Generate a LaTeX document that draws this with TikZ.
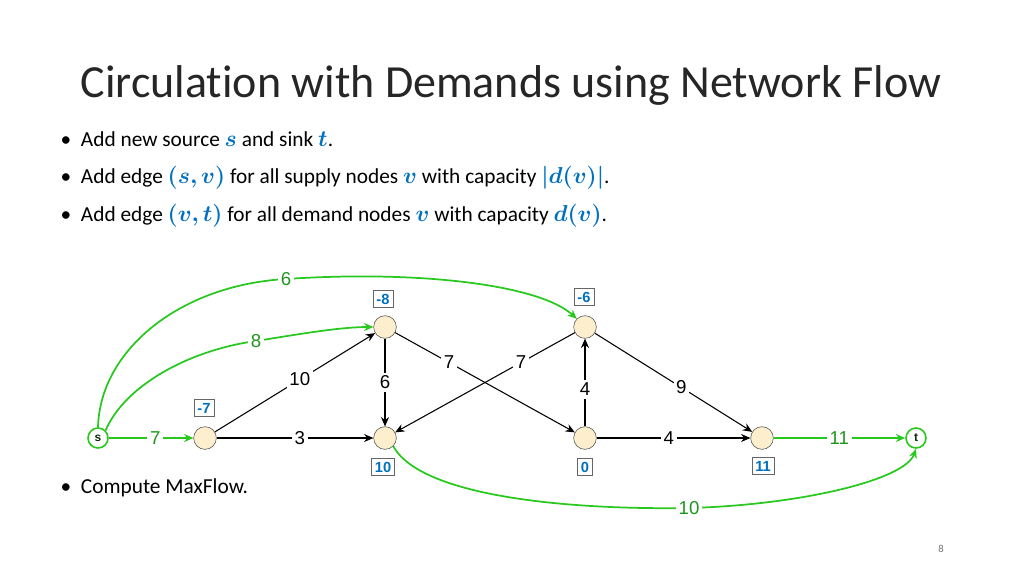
\documentclass[tikz,border=0pt]{standalone}
\usepackage{fontspec}
\setmainfont{Carlito}[Ligatures=NoCommon]
\newfontfamily\arialf{Liberation Sans}
\usepackage{amsmath,amssymb,bm}
\usetikzlibrary{arrows.meta}
\definecolor{myblue}{RGB}{0,112,192}
\definecolor{mygreen}{RGB}{40,200,30}
\definecolor{mygreentxt}{RGB}{30,150,30}
\definecolor{nodefill}{RGB}{253,238,205}
\newcommand{\bv}[1]{\textcolor{myblue}{$\bm{#1}$}}
\tikzset{
  vtx/.style={circle,draw=black!70,fill=nodefill,minimum size=17pt,inner sep=0pt},
  term/.style={circle,draw=mygreen,line width=1.2pt,fill=white,minimum size=15pt,inner sep=0pt,font=\arialf\bfseries\small,text=black!70!mygreentxt},
  dem/.style={draw=black!60,fill=white,inner sep=2.5pt,font=\arialf\bfseries\fontsize{11}{11}\selectfont,text=myblue},
  flow/.style={-{Stealth[length=7pt,width=6pt]},black,line width=0.8pt},
  extra/.style={-{Stealth[length=7pt,width=6pt]},mygreen,line width=1.3pt},
  capl/.style={fill=white,inner sep=2pt,font=\arialf\fontsize{14}{14}\selectfont},
  gcap/.style={capl,text=mygreentxt},
  bul/.style={anchor=west,font=\fontsize{16}{16}\selectfont}
}
\begin{document}
\begin{tikzpicture}[x=0.75pt,y=-0.75pt]
\useasboundingbox (0,0) rectangle (1024,576);

% title and bullets
\node[anchor=west,font=\fontsize{34.5}{34.5}\selectfont,text=black!85] (title) at (76,85) {Circulation with Demands using Network Flow};
\node[bul] (l1) at (56,139) {\textbullet\ \ Add new source \bv{s} and sink \bv{t}.};
\node[bul] (l2) at (56,178) {\textbullet\ \ Add edge \bv{(s,v)} for all supply nodes \bv{v} with capacity \bv{|d(v)|}.};
\node[bul] (l3) at (56,216) {\textbullet\ \ Add edge \bv{(v,t)} for all demand nodes \bv{v} with capacity \bv{d(v)}.};
\node[bul] (l4) at (56,488) {\textbullet\ \ Compute MaxFlow.};
\node[font=\fontsize{8}{8}\selectfont,text=black!55] (pg) at (941,549) {8};

% vertices
\node[term] (s) at (98,438) {s};
\node[term] (t) at (916,438) {t};
\node[vtx] (a) at (205,438) {};
\node[vtx] (b) at (385,327) {};
\node[vtx] (c) at (385,438) {};
\node[vtx] (d) at (585,327) {};
\node[vtx] (e) at (585,438) {};
\node[vtx] (f) at (762,438) {};

% demands
\node[dem] (da) at (204,408) {-7};
\node[dem] (db) at (383,299) {-8};
\node[dem] (dc) at (383,467) {10};
\node[dem] (dd) at (584,297) {-6};
\node[dem] (de) at (585,467) {0};
\node[dem] (df) at (763,466) {11};

% original edges
\draw[flow] (a) -- node[capl,pos=0.53] {10} (b);
\draw[flow] (a) -- node[capl,pos=0.53] {3} (c);
\draw[flow] (b) -- node[capl] {6} (c);
\draw[flow] (b) -- node[capl,pos=0.3] {7} (e);
\draw[flow] (d) -- node[capl,pos=0.3] {7} (c);
\draw[flow] (e) -- node[capl,pos=0.42] {4} (d);
\draw[flow] (d) -- node[capl,pos=0.55] {9} (f);
\draw[flow] (e) -- node[capl,pos=0.47] {4} (f);

% added edges
\draw[extra] (s) -- node[gcap,pos=0.55] {7} (a);
\draw[extra] (f) -- node[gcap,pos=0.5] {11} (t);
\draw[extra] (s.north east) .. controls (125,385) and (190,350) .. (256,341) node[gcap] {8}
  .. controls (300,334) and (340,327) .. (b.west);
\draw[extra] (s.north) .. controls (100,350) and (180,285) .. (286,279) node[gcap] {6}
  .. controls (420,270) and (540,285) .. (d.north west);
\draw[extra] (c.south east) .. controls (420,495) and (560,510) .. (689,508) node[gcap] {10}
  .. controls (800,505) and (905,480) .. (t.south);
\end{tikzpicture}
\end{document}
